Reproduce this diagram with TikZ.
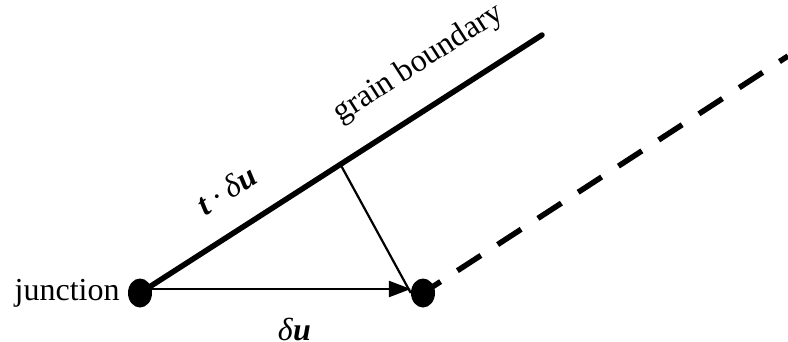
\documentclass[tikz,border=0pt]{standalone}
\usepackage{fontspec}
\setmainfont{Liberation Serif}
\usetikzlibrary{positioning,calc,arrows.meta,shapes.geometric}
\begin{document}
\begin{tikzpicture}[x=1pt,y=-1pt,
  font=\fontsize{32}{38}\selectfont,
  dot/.style={ellipse,fill=black,minimum width=24pt,minimum height=29pt,inner sep=0pt},
  lbl/.style={inner sep=0pt},
  boundary/.style={line width=5.5pt,line cap=round},
  trace/.style={line width=5.5pt,dash pattern=on 28pt off 20pt,dash phase=7pt},
  vec/.style={line width=2.5pt,-{Triangle[length=22pt,width=16pt]}}]
\useasboundingbox (0,0) rectangle (788,341);
\node[dot] (junc) at (140,293) {};
\node[dot] (tip) at (423,293) {};
\coordinate (gbend) at (542,35);
\coordinate (trend) at (788,56);
\coordinate (foot) at ($(junc)!(tip)!(gbend)$);
\node[lbl,left=8pt of junc] (jlabel) {junction};
\draw[trace] (tip.center) -- (trend);
\draw[boundary] (junc.center) -- (gbend)
  node[lbl,pos=0.75,sloped,above=25pt] (gblabel) {grain boundary}
  node[lbl,pos=0.27,sloped,above=26pt] (tlabel) {\textbf{\textit{t}}\,·\,\textit{δ}\textbf{\textit{u}}};
\draw[line width=2.2pt] (foot) -- (tip.west);
\draw[vec] ([yshift=4pt]junc.center) -- ([yshift=4pt]tip.west)
  node[lbl,pos=0.57,below=28pt] (dlabel) {\textit{δ}\textbf{\textit{u}}};
\end{tikzpicture}
\end{document}
